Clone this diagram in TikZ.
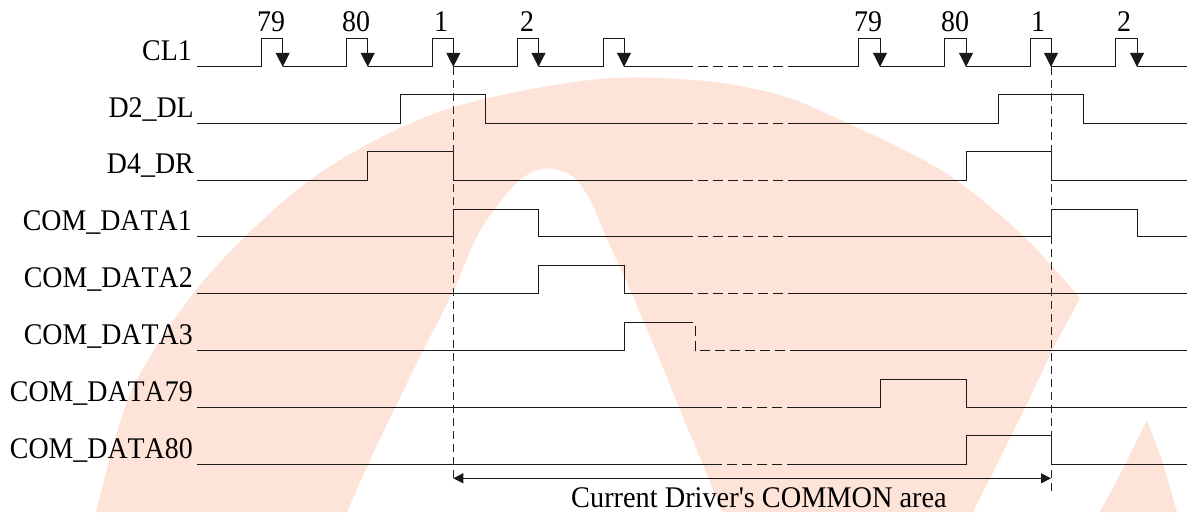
\documentclass[tikz,border=0pt]{standalone}
\usepackage{fontspec}
\newfontfamily\refserif[FakeStretch=0.93,Kerning=Off]{Liberation Serif}
\usetikzlibrary{arrows.meta}
\definecolor{wm}{HTML}{FEE3D8}
\tikzset{
  sig/.style={line width=1pt,draw=black!90,line join=miter},
  gap/.style={sig,dash pattern=on 10pt off 5pt},
  guide/.style={line width=.9pt,draw=black!85,dash pattern=on 8pt off 5pt},
  pulse/.style={sig,-{Triangle[length=14pt,width=14pt]},fill=black},
  span/.style={line width=.9pt,draw=black!90,{Triangle[length=10pt,width=10pt]}-{Triangle[length=10pt,width=10pt]},fill=black},
  lab/.style={anchor=base east,inner sep=0pt,font=\refserif\fontsize{30}{34}\selectfont},
  num/.style={anchor=base,inner sep=0pt,font=\refserif\fontsize{30}{34}\selectfont}
}
\begin{document}
\begin{tikzpicture}[x=1pt,y=-1pt]
\useasboundingbox (0,0) rectangle (1187,512);
% watermark
\fill[wm] plot[smooth,tension=.6] coordinates {(96,512) (123,413) (148,360) (197,289) (252,230) (317,175) (400,128) (480,100) (600,79) (694,80) (750,88) (795,100) (847,123) (900,148) (956,180) (1024,236.7) (1080,298)}
  -- (1052,350.7) -- (1025,407.7) -- (997,464.7) -- (973,512) -- (722,512) -- (703,464.7) -- (679,407.7) -- (656,350.7) -- (632,293.7)
  -- plot[smooth,tension=.6] coordinates {(632,293.7) (606,236.7) (590,200) (572,176) (545,168.5) (520,180) (497,206) (477,236.7) (452,293.7) (423,350.7) (395,407.7) (368,464.7) (347,512)} -- cycle;
\fill[wm] (1147,420) -- (1125,465) -- (1100,512) -- (1177,512) -- (1162,460) -- cycle;

% CL1
\foreach \a/\u/\d in {197/261/282.7,282.7/346.7/367.7,367.7/432/453.3,453.3/517.5/538.5,538.5/603/624,795/858.7/880,880/944/966,966/1030/1051,1051/1115/1137}{
  \draw[sig] (\a,66.5) -- (\u,66.5) -- (\u,38) -- (\d,38);
  \draw[pulse] (\d,38) -- (\d,66.8);
}
\draw[sig] (624,66.5) -- (683,66.5);
\draw[gap] (683,66.5) -- (795,66.5);
\draw[sig] (1137,66.5) -- (1187,66.5);

% D2_DL
\draw[sig] (197,123.3) -- (400.5,123.3) -- (400.5,94.7) -- (485.7,94.7) -- (485.7,123.3) -- (683,123.3);
\draw[gap] (683,123.3) -- (795,123.3);
\draw[sig] (795,123.3) -- (998,123.3) -- (998,94.7) -- (1083.7,94.7) -- (1083.7,123.3) -- (1187,123.3);
% D4_DR
\draw[sig] (197,180) -- (367.7,180) -- (367.7,151.7) -- (453,151.7) -- (453,180) -- (683,180);
\draw[gap] (683,180) -- (795,180);
\draw[sig] (795,180) -- (966,180) -- (966,151.7) -- (1051,151.7) -- (1051,180) -- (1187,180);
% COM_DATA1
\draw[sig] (197,236.7) -- (453,236.7) -- (453,209) -- (538.5,209) -- (538.5,236.7) -- (683,236.7);
\draw[gap] (683,236.7) -- (795,236.7);
\draw[sig] (795,236.7) -- (1051,236.7) -- (1051,209) -- (1137,209) -- (1137,236.7) -- (1187,236.7);
% COM_DATA2
\draw[sig] (197,293.7) -- (538.5,293.7) -- (538.5,265.7) -- (624,265.7) -- (624,293.7) -- (683,293.7);
\draw[gap] (683,293.7) -- (795,293.7);
\draw[sig] (795,293.7) -- (1187,293.7);
% COM_DATA3
\draw[sig] (197,350.7) -- (624,350.7) -- (624,322.7) -- (683,322.7);
\draw[gap] (683,322.7) -- (695,322.7) -- (695,350.7) -- (795,350.7);
\draw[sig] (795,350.7) -- (1187,350.7);
% COM_DATA79
\draw[sig] (197,407.7) -- (712,407.7);
\draw[gap] (712,407.7) -- (795,407.7);
\draw[sig] (795,407.7) -- (880,407.7) -- (880,379.3) -- (966,379.3) -- (966,407.7) -- (1187,407.7);
% COM_DATA80
\draw[sig] (197,464.7) -- (712,464.7);
\draw[gap] (712,464.7) -- (795,464.7);
\draw[sig] (795,464.7) -- (966,464.7) -- (966,435.7) -- (1051,435.7) -- (1051,464.7) -- (1187,464.7);

% guides and span
\coordinate (g1t) at (453.3,67);
\coordinate (g1b) at (453.3,483);
\coordinate (g2t) at (1051,67);
\coordinate (g2b) at (1051,493);
\coordinate (s1) at (453.3,478.3);
\coordinate (s2) at (1051,478.3);
\draw[guide] (g1t) -- (g1b);
\draw[guide] (g2t) -- (g2b);
\draw[span] (s1) -- (s2);

% labels
\node[lab] (cl1) at (192,60) {CL1};
\node[lab] (d2) at (194,117) {D2\_DL};
\node[lab] (d4) at (194,173) {D4\_DR};
\node[lab] (c1) at (192,230) {COM\_DATA1};
\node[lab] (c2) at (193,287) {COM\_DATA2};
\node[lab] (c3) at (193,344) {COM\_DATA3};
\node[lab] (c79) at (193,401) {COM\_DATA79};
\node[lab] (c80) at (193,458) {COM\_DATA80};
\node[num] (n79a) at (271,31) {79};
\node[num] (n80a) at (356,31) {80};
\node[num] (n1a) at (441,31) {1};
\node[num] (n2a) at (527,31) {2};
\node[num] (n79b) at (868,31) {79};
\node[num] (n80b) at (955,31) {80};
\node[num] (n1b) at (1038,31) {1};
\node[num] (n2b) at (1124,31) {2};
\node[num,xscale=1.015,transform shape] (cap) at (759,507) {Current Driver's COMMON area};
\end{tikzpicture}
\end{document}
